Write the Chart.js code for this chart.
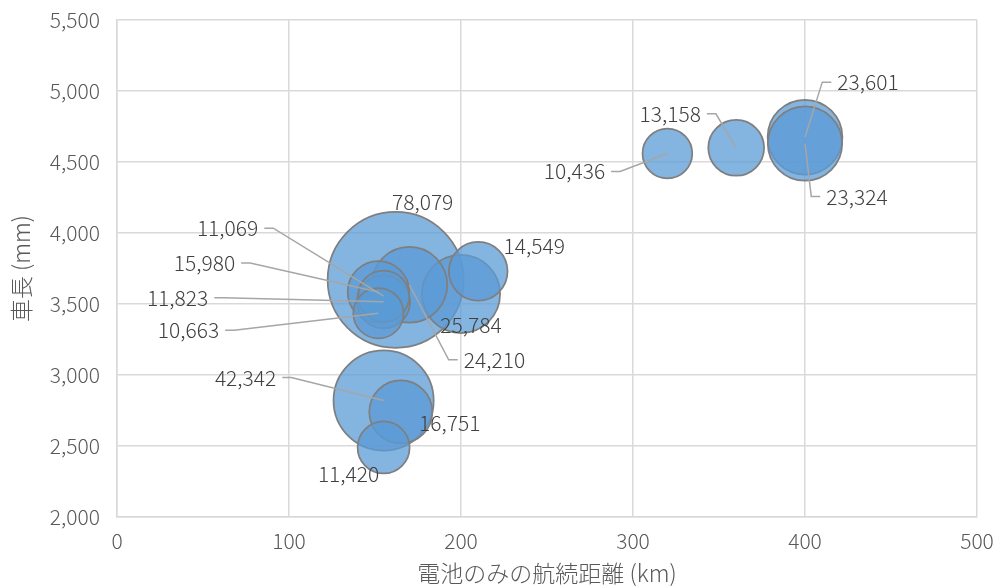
<!DOCTYPE html>
<html>
<head>
<meta charset="utf-8">
<script src="https://cdn.jsdelivr.net/npm/chart.js@4.4.0/dist/chart.umd.min.js"></script>
<style>
  html, body { margin: 0; padding: 0; background: #fff; }
  #wrap { width: 996px; height: 587px; }
</style>
</head>
<body>
<div id="wrap"><canvas id="bubbleChart"></canvas></div>
<script>
// 航続距離 (km), 車長 (mm), 販売台数
const rangeKm  = [162, 155, 200, 170, 400, 400, 165, 152, 210, 360, 155, 155, 155, 152, 320];
const lengthMm = [3670, 2820, 3570, 3635, 4675, 4630, 2740, 3585, 3730, 4600, 3515, 2490, 3555, 3435, 4560];
const sales    = [78079, 42342, 25784, 24210, 23601, 23324, 16751, 15980, 14549, 13158, 11823, 11420, 11069, 10663, 10436];

const xTicks = [0, 100, 200, 300, 400, 500];
const yTicks = [2000, 2500, 3000, 3500, 4000, 4500, 5000, 5500];

// label placement: offset from bubble centre (px) and which side the leader line leaves from
const labelPlace = [
  [27, -78, null], [-138, -23, 'right'], [10, 31, null], [85, 75, 'left'],
  [63, -55, 'left'], [52, 53, 'left'], [49, 11, null], [-174, -29, 'right'],
  [56, -25, null], [-66, -34, 'right'], [-206, -4, 'right'], [-35, 27, null],
  [-156, -68, 'right'], [-190, 17, 'right'], [-93, 18, 'right']
];

const FONT = '"Noto Sans CJK JP", "Noto Sans", sans-serif';
const R_MAX = 68;
const maxSale = Math.max(...sales);

const points = sales.map((s, i) => ({
  x: rangeKm[i],
  y: lengthMm[i],
  r: R_MAX * Math.sqrt(s / maxSale)
}));

const bubbleLabels = {
  id: 'bubbleLabels',
  afterDatasetsDraw(chart) {
    const ctx = chart.ctx;
    const meta = chart.getDatasetMeta(0);
    ctx.save();
    ctx.font = '300 21px ' + FONT;
    ctx.textAlign = 'center';
    ctx.textBaseline = 'middle';
    meta.data.forEach((el, i) => {
      const [dx, dy, side] = labelPlace[i];
      const text = sales[i].toLocaleString('en-US');
      const lx = el.x + dx, ly = el.y + dy;
      if (side) {
        const w = ctx.measureText(text).width;
        const sx = side === 'right' ? lx + w / 2 + 6 : lx - w / 2 - 6;
        const hx = side === 'right' ? sx + 9 : sx - 9;
        ctx.beginPath();
        ctx.moveTo(sx, ly);
        ctx.lineTo(hx, ly);
        ctx.lineTo(el.x, el.y);
        ctx.strokeStyle = '#a6a6a6';
        ctx.lineWidth = 1.5;
        ctx.stroke();
      }
      ctx.fillStyle = '#404040';
      ctx.fillText(text, lx, ly);
    });
    ctx.restore();
  },
  afterDraw(chart) {
    // vertical axis title, centred on the plot area
    const ctx = chart.ctx;
    const area = chart.chartArea;
    ctx.save();
    ctx.translate(21, (area.top + area.bottom) / 2);
    ctx.rotate(-Math.PI / 2);
    ctx.font = '300 23px ' + FONT;
    ctx.fillStyle = '#595959';
    ctx.textAlign = 'center';
    ctx.textBaseline = 'middle';
    ctx.fillText('車長 (mm)', 0, 0);
    ctx.restore();
  }
};

new Chart(document.getElementById('bubbleChart'), {
  type: 'bubble',
  data: {
    datasets: [{
      data: points,
      backgroundColor: 'rgba(91, 155, 213, 0.75)',
      borderColor: '#7f7f7f',
      borderWidth: 1.75
    }]
  },
  options: {
    responsive: true,
    maintainAspectRatio: false,
    animation: false,
    events: [],
    layout: { autoPadding: false, padding: { left: 0, right: 19, top: 20, bottom: 0 } },
    plugins: {
      legend: { display: false },
      tooltip: { enabled: false }
    },
    scales: {
      x: {
        type: 'linear',
        min: xTicks[0],
        max: xTicks[xTicks.length - 1],
        afterBuildTicks: s => { s.ticks = xTicks.map(v => ({ value: v })); },
        afterFit: s => { s.height = 70; s.paddingLeft = 0; s.paddingRight = 0; },
        grid: { color: '#d9d9d9', drawTicks: false, lineWidth: 1.5 },
        border: { color: '#d9d9d9', width: 1.5 },
        ticks: { padding: 11, color: '#595959', font: { family: FONT, size: 21, weight: 300 } },
        title: {
          display: true,
          text: '電池のみの航続距離 (km)',
          color: '#595959',
          font: { family: FONT, size: 23, weight: 300 },
          padding: { top: 0, bottom: 0 }
        }
      },
      y: {
        type: 'linear',
        min: yTicks[0],
        max: yTicks[yTicks.length - 1],
        afterBuildTicks: s => { s.ticks = yTicks.map(v => ({ value: v })); },
        afterFit: s => { s.width = 117; s.paddingTop = 0; s.paddingBottom = 0; },
        grid: { color: '#d9d9d9', drawTicks: false, lineWidth: 1.5 },
        border: { color: '#d9d9d9', width: 1.5 },
        ticks: { padding: 17, color: '#595959', font: { family: FONT, size: 21, weight: 300 } }
      }
    }
  },
  plugins: [bubbleLabels]
});
</script>
</body>
</html>
